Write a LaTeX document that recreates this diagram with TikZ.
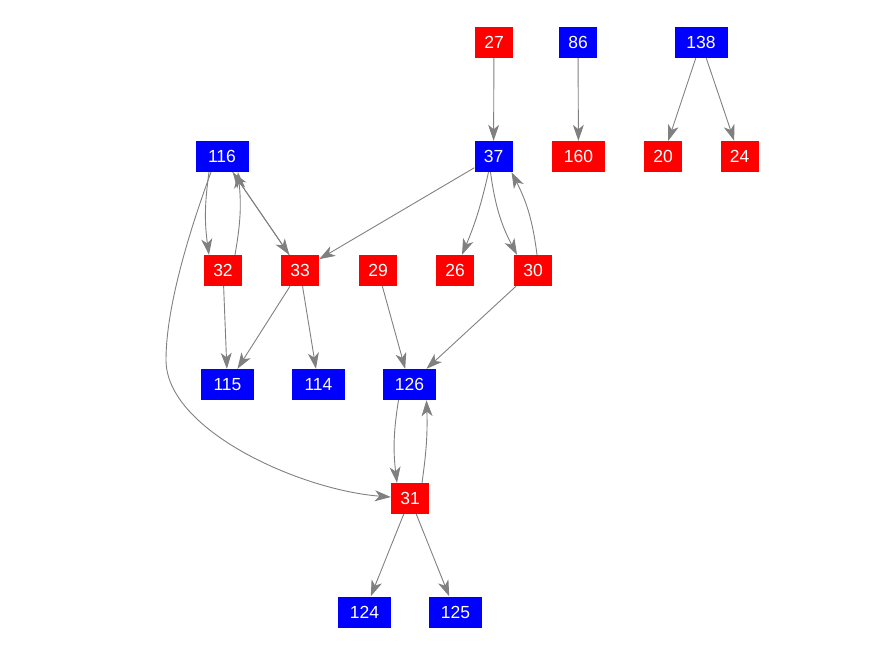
\documentclass[tikz,border=0pt]{standalone}
\usepackage{fontspec}
\setmainfont{Liberation Sans}
\usetikzlibrary{arrows.meta}
\tikzset{
 nd/.style={draw=none, text=white, minimum width=38pt, minimum height=31pt, inner sep=0pt, font=\fontsize{17.5}{19}\selectfont},
 rn/.style={nd, fill=red},
 bn/.style={nd, fill=blue},
 wide/.style={minimum width=53pt},
 edge/.style={draw=gray, line width=0.9pt, -{Stealth[length=16pt,width=11pt,inset=4.5pt]}},
}
\begin{document}
\begin{tikzpicture}[x=1pt,y=-1pt]
\useasboundingbox (0,0) rectangle (876,656);
% row 1
\node[rn] (n27) at (494,42.5) {27};
\node[bn] (n86) at (578,42.5) {86};
\node[bn,wide] (n138) at (701,42.5) {138};
% row 2
\node[bn,wide] (n116) at (222,156.5) {116};
\node[bn] (n37) at (493.5,156.5) {37};
\node[rn,wide] (n160) at (578.5,156.5) {160};
\node[rn] (n20) at (663,156.5) {20};
\node[rn] (n24) at (739.5,156.5) {24};
% row 3
\node[rn] (n32) at (223,270.5) {32};
\node[rn] (n33) at (300,270.5) {33};
\node[rn] (n29) at (378,270.5) {29};
\node[rn] (n26) at (455,270.5) {26};
\node[rn] (n30) at (533,270.5) {30};
% row 4
\node[bn,wide] (n115) at (227.5,384.5) {115};
\node[bn,wide] (n114) at (318.5,384.5) {114};
\node[bn,wide] (n126) at (409.5,384.5) {126};
% row 5
\node[rn] (n31) at (410,498.5) {31};
% row 6
\node[bn,wide] (n124) at (364.5,612) {124};
\node[bn,wide] (n125) at (455.5,612) {125};
% edges
\draw[edge] (n27) -- (n37);
\draw[edge] (n86) -- (n160);
\draw[edge] (n138) -- (n20);
\draw[edge] (n138) -- (n24);
\draw[edge] ([xshift=-13pt]n116.south) to[bend right=8] ([xshift=-14pt]n32.north);
\draw[edge] ([xshift=12pt]n32.north) to[bend right=8] ([xshift=16pt]n116.south);
\draw[edge] (n116) -- (n33);
\draw[edge] (n33) -- (n116);
\draw[edge] ([xshift=-11pt]n116.south) .. controls (196,213) and (166,300) .. (166,360) .. controls (166,430) and (300,490) .. (n31);
\draw[edge] (n37) -- (n33);
\draw[edge] ([xshift=-5pt]n37.south) to[bend left=5] ([xshift=7pt]n26.north);
\draw[edge] ([xshift=-3pt]n37.south) to[bend right=10] ([xshift=-16pt]n30.north);
\draw[edge] ([xshift=4pt]n30.north) to[bend right=10] ([xshift=18pt]n37.south);
\draw[edge] (n32) -- (n115);
\draw[edge] (n33) -- (n115);
\draw[edge] (n33) -- (n114);
\draw[edge] (n29) -- (n126);
\draw[edge] (n30) -- (n126);
\draw[edge] ([xshift=-11pt]n126.south) to[bend right=8] ([xshift=-13pt]n31.north);
\draw[edge] ([xshift=12pt]n31.north) to[bend right=5] ([xshift=17pt]n126.south);
\draw[edge] (n31) -- (n124);
\draw[edge] (n31) -- (n125);
\end{tikzpicture}
\end{document}
